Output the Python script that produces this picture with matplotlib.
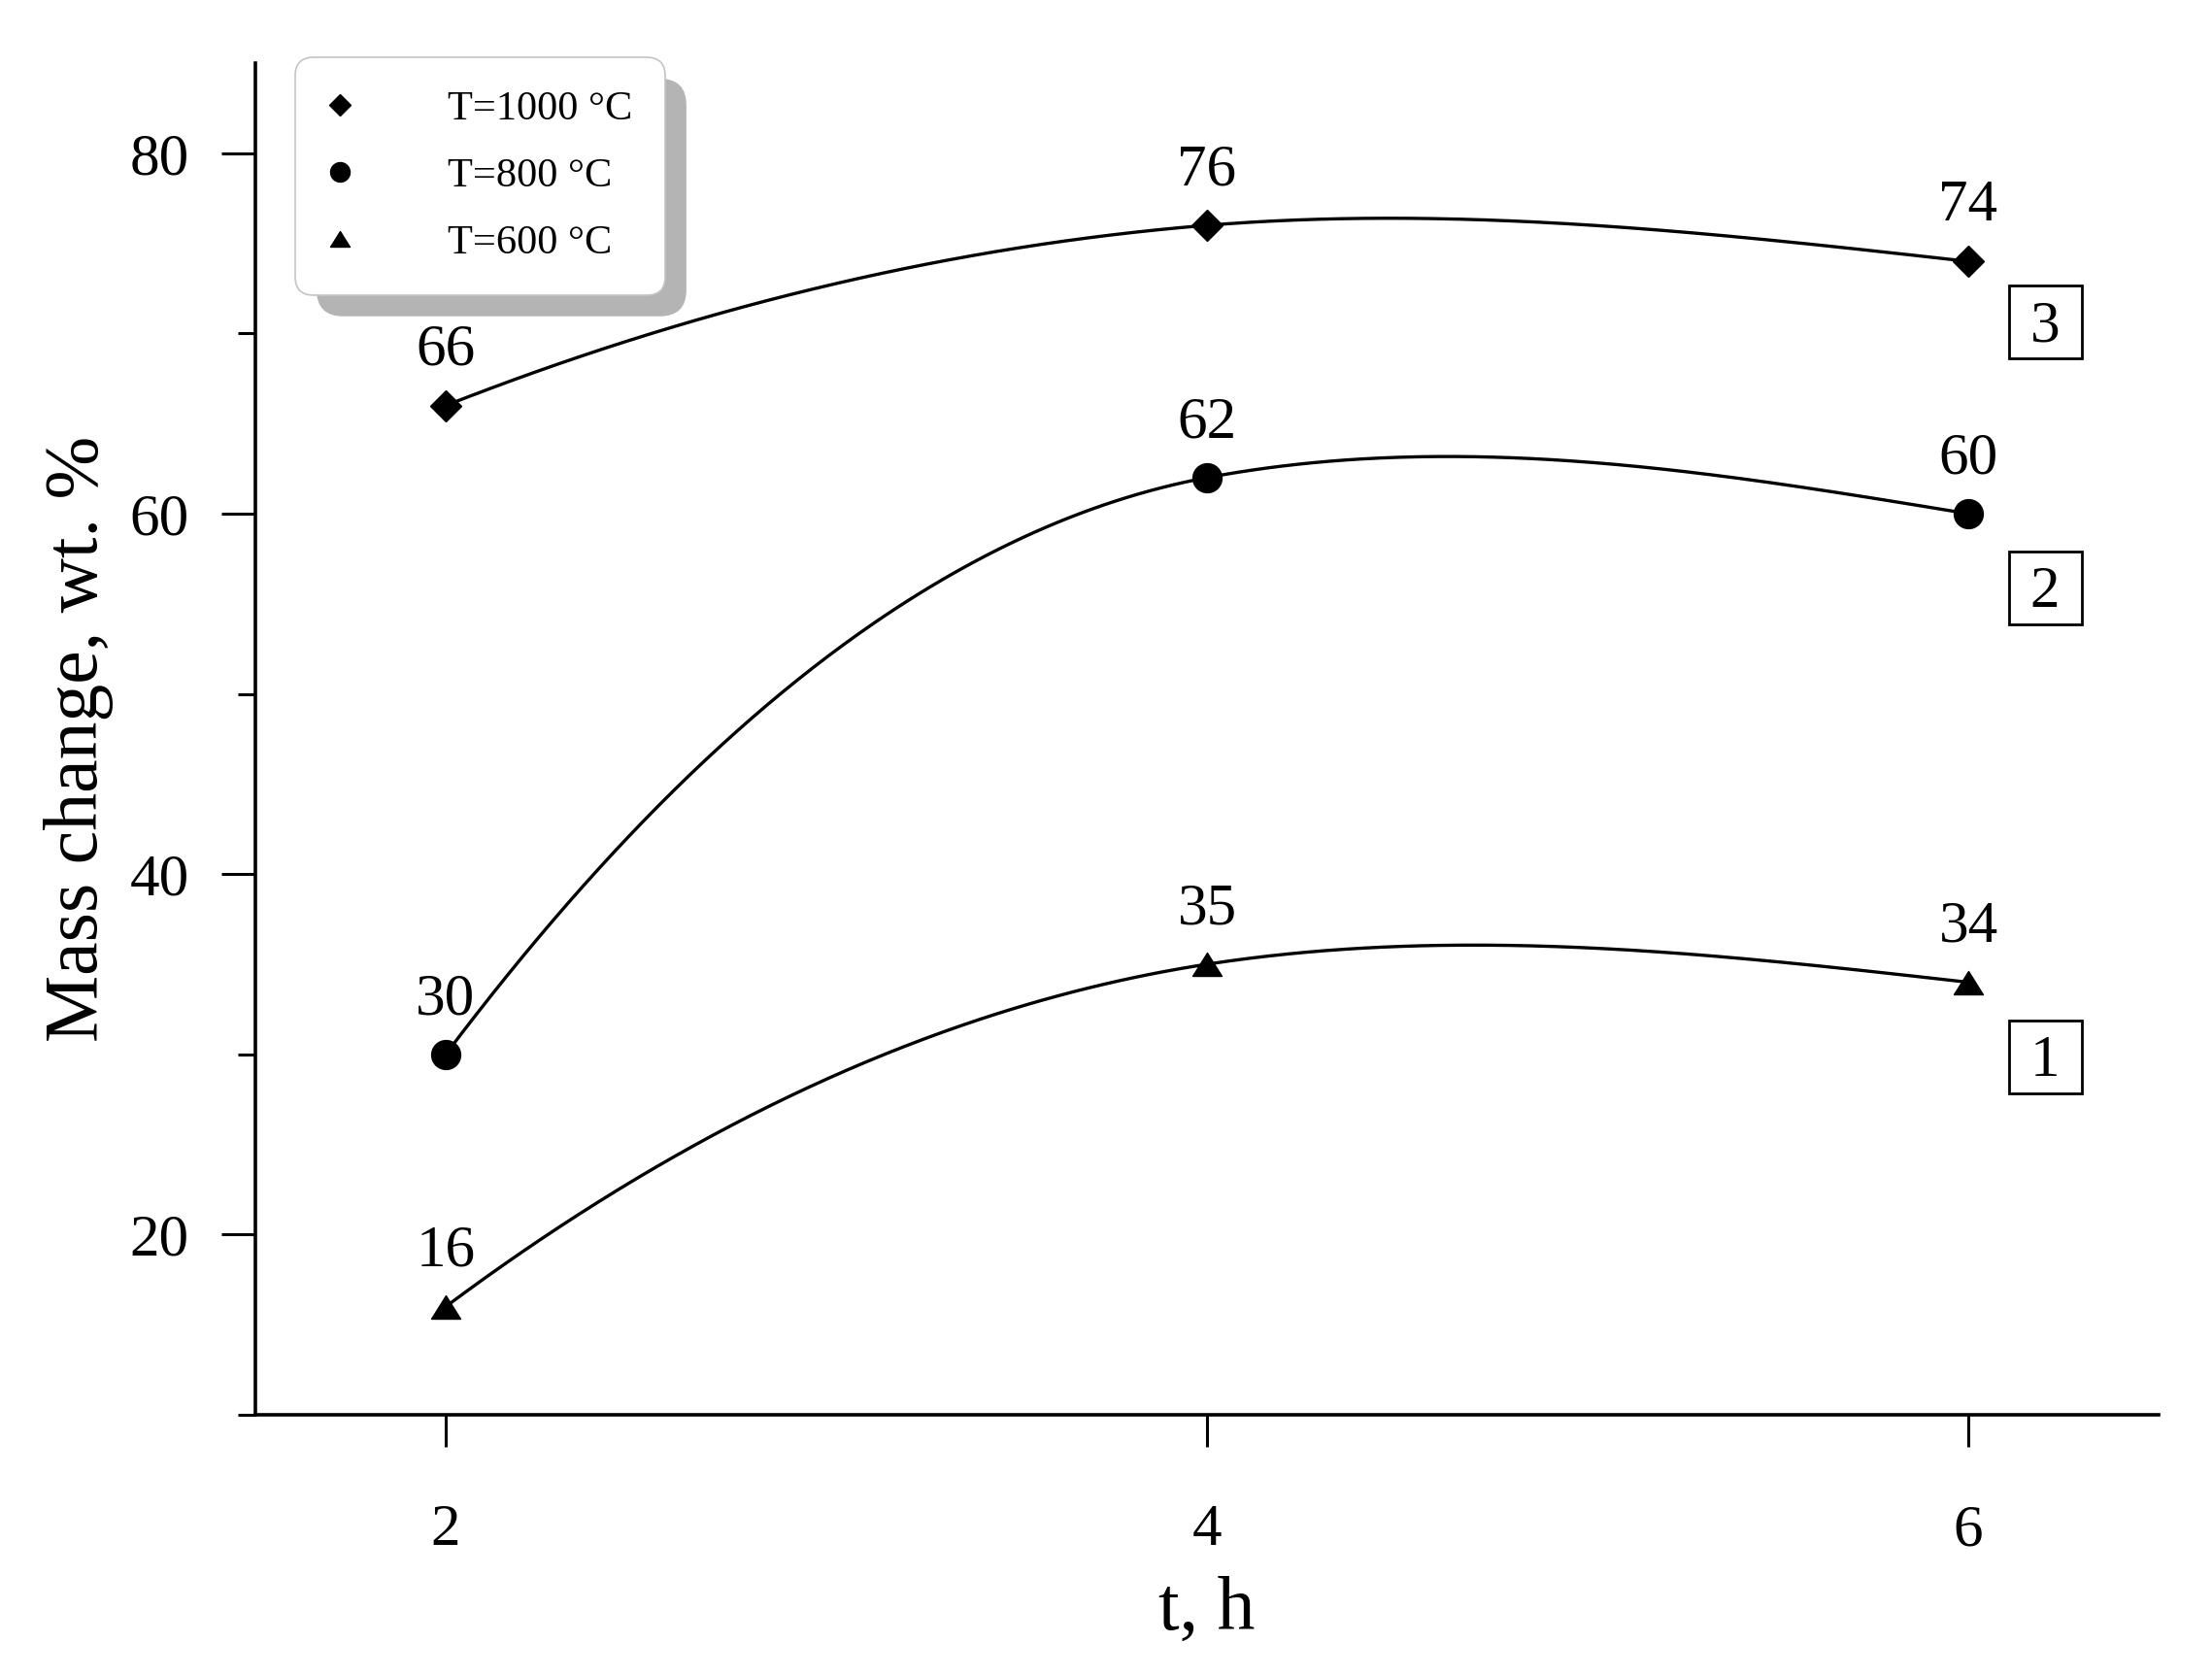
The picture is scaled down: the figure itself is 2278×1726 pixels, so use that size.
import numpy as np
import matplotlib
matplotlib.use('Agg')
import matplotlib.pyplot as plt
from matplotlib.lines import Line2D
from matplotlib.patches import FancyBboxPatch
from matplotlib.transforms import offset_copy

plt.rcParams['font.family'] = ['Liberation Serif', 'DejaVu Serif']

# data
t_h = [2, 4, 6]
mass_1000 = [66, 76, 74]
mass_800 = [30, 62, 60]
mass_600 = [16, 35, 34]
series_labels = ['T=1000 °C', 'T=800 °C', 'T=600 °C']
curve_ids = ['3', '2', '1']


def smooth_curve(xs, ys, r=0.14, n=200):
    # piecewise cubic hermite through the points (smoothed line)
    xs = np.asarray(xs, float)
    ys = np.asarray(ys, float)
    d = np.diff(ys) / np.diff(xs)
    m = np.zeros_like(ys)
    for i in range(1, len(xs) - 1):
        ul = np.array([1.0, d[i - 1] * r])
        ul /= np.hypot(*ul)
        ur = np.array([1.0, d[i] * r])
        ur /= np.hypot(*ur)
        tv = ul + ur
        m[i] = tv[1] / tv[0] / r
    m[0] = 2 * d[0] - m[1]
    m[-1] = (3 * d[-1] - m[-2]) / 2
    xx, yy = [], []
    s = np.linspace(0, 1, n)
    for i in range(len(xs) - 1):
        h = xs[i + 1] - xs[i]
        h00 = 2 * s**3 - 3 * s**2 + 1
        h10 = s**3 - 2 * s**2 + s
        h01 = -2 * s**3 + 3 * s**2
        h11 = s**3 - s**2
        xx.append(xs[i] + s * h)
        yy.append(h00 * ys[i] + h10 * h * m[i] + h01 * ys[i + 1] + h11 * h * m[i + 1])
    return np.concatenate(xx), np.concatenate(yy)


fig = plt.figure(figsize=(22.78, 17.26), dpi=100)
ax = fig.add_axes([263 / 2278, 1 - 1457 / 1726, 1960 / 2278, 1392 / 1726])

tri = [(-1, -0.8), (1, -0.8), (0, 0.8), (-1, -0.8)]
styles = [
    dict(marker='D', ms=16.5, leg_ms=11.5),
    dict(marker='o', ms=21.5, leg_ms=14.4),
    dict(marker=tri, ms=21.6, leg_ms=14.4),
]
box_dy = [-62, -76, -76]

handles = []
for ys, lab, cid, st, dy in zip([mass_1000, mass_800, mass_600], series_labels,
                                curve_ids, styles, box_dy):
    cx, cy = smooth_curve(t_h, ys)
    ax.plot(cx, cy, color='black', lw=2.4, zorder=2)
    ax.plot(t_h, ys, linestyle='none', marker=st['marker'], ms=st['ms'],
            color='black', zorder=3)
    for x, v in zip(t_h, ys):
        ax.annotate(str(v), (x, v), xytext=(0, 30), textcoords='offset points',
                    ha='center', va='baseline', fontsize=44)
    # boxed curve number
    tr_box = offset_copy(ax.transData, fig=fig, x=79, y=dy, units='dots')
    ax.plot(t_h[-1], ys[-1], marker='s', ms=54, mfc='none', mec='black', mew=2,
            transform=tr_box, clip_on=False, zorder=3)
    tr_txt = offset_copy(ax.transData, fig=fig, x=79, y=dy - 20, units='dots')
    ax.text(t_h[-1], ys[-1], cid, transform=tr_txt, ha='center', va='baseline',
            fontsize=44, clip_on=False)
    handles.append(Line2D([], [], linestyle='none', marker=st['marker'],
                          ms=st['leg_ms'], color='black', label=lab))

ax.set_xlim(1.5, 6.5)
ax.set_ylim(10, 85)
ax.set_xticks(t_h)
ax.set_yticks([20, 40, 60, 80])
ax.set_yticks([10, 30, 50, 70], minor=True)
ax.tick_params(axis='y', which='major', length=25, width=2.2, labelsize=44, pad=24)
ax.tick_params(axis='y', which='minor', length=13, width=2.2)
ax.tick_params(axis='x', which='major', length=24, width=2.2, labelsize=44, pad=42)
for side in ['top', 'right']:
    ax.spines[side].set_visible(False)
for side in ['left', 'bottom']:
    ax.spines[side].set_linewidth(2.6)

ax.set_xlabel('t, h', fontsize=56, va='center')
ax.xaxis.set_label_coords(0.5, -0.145)
ax.set_ylabel('Mass change, wt. %', fontsize=56, va='center')
ax.yaxis.set_label_coords(-0.093, 0.5)

leg = fig.legend(handles=handles, loc='upper left',
                 bbox_to_anchor=(304 / 2278, 1 - 59 / 1726),
                 fontsize=30.5, frameon=True, fancybox=True,
                 borderpad=0.8, handlelength=0.55, handletextpad=2.35,
                 labelspacing=0.72, borderaxespad=0)
frame = leg.get_frame()
frame.set_boxstyle('round', pad=0, rounding_size=0.45)
frame.set_edgecolor('#c4c4c4')
frame.set_linewidth(1.2)
frame.set_alpha(1)
leg.set_zorder(6)

fig.canvas.draw()
bb = leg.get_window_extent(fig.canvas.get_renderer())
bbf = bb.transformed(fig.transFigure.inverted())
sx, sy = 22 / 2278, 22 / 1726
shadow = FancyBboxPatch((bbf.x0 + sx, bbf.y0 - sy), bbf.width, bbf.height,
                        boxstyle='round,pad=0,rounding_size=0.012',
                        transform=fig.transFigure, facecolor='#b4b4b4',
                        edgecolor='none', zorder=5, mutation_aspect=2278 / 1726)
fig.add_artist(shadow)

fig.savefig('out.png', dpi=100)
